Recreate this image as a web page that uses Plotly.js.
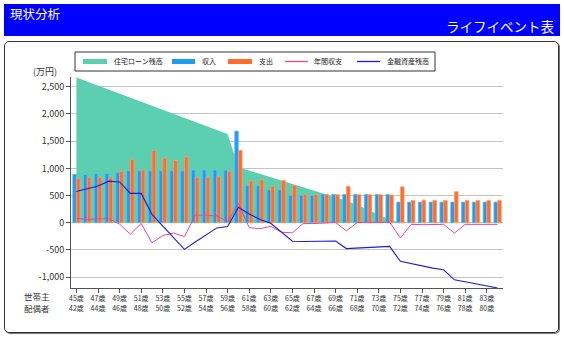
<!DOCTYPE html>
<html><head><meta charset="utf-8">
<script src="https://cdn.plot.ly/plotly-3.0.1.min.js"></script>
<style>
html,body{margin:0;padding:0;width:564px;height:337px;overflow:hidden;background:#fff;font-family:"Noto Sans CJK JP",sans-serif;}
#hdr{position:absolute;left:4px;top:4px;width:556px;height:32px;background:#0000ff;color:#fff;}
#t1{position:absolute;left:6px;top:1px;font-size:12.5px;line-height:18px;}
#t2{position:absolute;right:6px;top:13px;font-size:13.5px;line-height:18px;}
#box{position:absolute;left:4px;top:41px;width:553px;height:290px;border:1px solid #333;border-radius:5px;box-shadow:1px 1px 0 #777;}
#chart{position:absolute;left:0;top:0;width:564px;height:337px;}
</style></head>
<body>
<div id="hdr"><span id="t1">現状分析</span><span id="t2">ライフイベント表</span></div>
<div id="box"></div>
<div id="chart"></div>
<script>
// 世帯主 / 配偶者 ages
const householderAges = [45,46,47,48,49,50,51,52,53,54,55,56,57,58,59,60,61,62,63,64,65,66,67,68,69,70,71,72,73,74,75,76,77,78,79,80,81,82,83,84];
const spouseAges      = [42,43,44,45,46,47,48,49,50,51,52,53,54,55,56,57,58,59,60,61,62,63,64,65,66,67,68,69,70,71,72,73,74,75,76,77,78,79,80,81];

// 住宅ローン残高 (万円)
const loanBalance = [2670,2595,2520,2450,2375,2300,2225,2150,2080,2005,1930,1855,1780,1705,1630,1020,960,900,835,775,710,650,590,525,475,405,325,240,150,60,0,0,0,0,0,0,0,0,0,0];
// 収入
const income = [890,890,905,905,920,955,955,955,955,955,955,970,970,970,970,1685,680,680,605,605,500,500,500,520,520,520,520,520,520,520,380,380,380,380,380,380,380,380,380,380];
// 支出
const expense = [810,830,835,830,945,1165,970,1325,1190,1145,1210,830,830,845,945,1330,770,790,670,780,685,515,515,520,515,670,515,515,515,510,660,410,415,410,410,570,410,410,410,410];
// 年間収支
const annualBalance = [80,60,70,75,-25,-210,-15,-370,-235,-190,-255,140,140,125,25,355,-90,-110,-65,-175,-185,-15,-15,0,5,-150,5,5,5,10,-280,-30,-35,-30,-30,-190,-30,-30,-30,-30];
// 金融資産残高
const financialAssets = [575,625,675,765,750,540,540,155,-65,-290,-490,-355,-225,-95,-70,285,160,60,-10,-180,-340,-345,-345,-340,-335,-475,-465,-455,-445,-435,-710,-755,-795,-835,-865,-1050,-1085,-1120,-1160,-1200];

const yTickVals   = [-1000,-500,0,500,1000,1500,2000,2500];
const yTickLabels = ['-1,000','-500','0','500','1,000','1,500','2,000','2,500'];
const seriesNames = ['住宅ローン残高','収入','支出','年間収支','金融資産残高'];
const rowLabels = ['世帯主','配偶者'];
const unitLabel = '(万円)';

const cats = householderAges.map(a => a + '歳');
const tickVals = [], tickText = [];
householderAges.forEach((a, i) => {
  if (i % 2 === 0 && i < 39) { tickVals.push(cats[i]); tickText.push(a + '歳<br>' + spouseAges[i] + '歳'); }
});

const C = {loan:'#5ccfb1', inc:'#1e9cf2', incL:'#62bdf7', exp:'#ff6c2c', expL:'#ff9a68', bal:'#e8479b', fin:'#1b1bd4'};
const seriesColors = [C.loan, C.inc, C.exp, C.bal, C.fin];
const FONT = '"Noto Sans CJK JP", "Noto Sans", sans-serif';

const traces = [
  {type:'scatter', x:cats, y:loanBalance, xaxis:'x', yaxis:'y', mode:'lines', fill:'tozeroy',
   fillcolor:C.loan, line:{width:0, color:C.loan}, showlegend:false, hoverinfo:'skip'},
  {type:'bar', x:cats, y:income, xaxis:'x2', yaxis:'y2', name:seriesNames[1],
   marker:{color:C.inc, line:{color:C.incL, width:0.8}}, showlegend:false},
  {type:'bar', x:cats, y:expense, xaxis:'x2', yaxis:'y2', name:seriesNames[2],
   marker:{color:C.exp, line:{color:C.expL, width:0.8}}, showlegend:false},
  {type:'scatter', x:cats, y:annualBalance, xaxis:'x2', yaxis:'y2', mode:'lines', name:seriesNames[3],
   line:{color:C.bal, width:1}, showlegend:false},
  {type:'scatter', x:cats, y:financialAssets, xaxis:'x2', yaxis:'y2', mode:'lines', name:seriesNames[4],
   line:{color:C.fin, width:1.1}, showlegend:false}
];

// custom legend (pixel layout -> paper coords)
const PL = 71, PW = 432, PB = 288, PH = 211;
const px = v => (v - PL) / PW, py = v => (PB - v) / PH;
const legBox = {x0:75, x1:435, y0:52, y1:71};
const legY = 61.5;
const legSamples = [[83,107],[172,195],[228,252],[285,308],[357,380]];
const legTextX = [112,200,257,312,385];
const legWidths = [5,5,5,1.3,1.3];

const shapes = [{type:'rect', xref:'paper', yref:'paper', x0:px(legBox.x0), x1:px(legBox.x1), y0:py(legBox.y0), y1:py(legBox.y1),
  line:{color:'#333', width:1}, fillcolor:'#fff', layer:'above'}];
const annotations = [
  {text:unitLabel, xref:'paper', yref:'paper', x:-0.06, y:1.025, xanchor:'center', yanchor:'middle', showarrow:false, font:{size:9, color:'#333'}},
  {text:rowLabels[0], xref:'paper', yref:'paper', x:-0.078, y:-0.038, xanchor:'center', yanchor:'middle', showarrow:false, font:{size:8.5, color:'#333'}},
  {text:rowLabels[1], xref:'paper', yref:'paper', x:-0.078, y:-0.095, xanchor:'center', yanchor:'middle', showarrow:false, font:{size:8.5, color:'#333'}}
];
seriesNames.forEach((n, i) => {
  shapes.push({type:'line', xref:'paper', yref:'paper', x0:px(legSamples[i][0]), x1:px(legSamples[i][1]), y0:py(legY), y1:py(legY),
    line:{color:seriesColors[i], width:legWidths[i]}, layer:'above'});
  annotations.push({text:n, xref:'paper', yref:'paper', x:px(legTextX[i]), y:py(legY), xanchor:'left', yanchor:'middle',
    showarrow:false, font:{size:7, color:'#222'}});
});

const xRange = [-0.5, 39.5], yRange = [-1200, 2680];
const layout = {
  width:564, height:337,
  margin:{l:71, r:61, t:77, b:49, pad:0},
  paper_bgcolor:'rgba(0,0,0,0)', plot_bgcolor:'rgba(0,0,0,0)',
  font:{family:FONT, size:9, color:'#333'},
  showlegend:false,
  barmode:'group', bargap:0.3, bargroupgap:0.05,
  xaxis:{type:'category', categoryorder:'array', categoryarray:cats, range:xRange, tickmode:'array', tickvals:tickVals, ticktext:tickText,
    ticks:'outside', ticklen:4, tickcolor:'#555', showline:true, linecolor:'#555', linewidth:1, showgrid:false, zeroline:false,
    tickfont:{size:7, color:'#333'}, fixedrange:true},
  yaxis:{range:yRange, tickmode:'array', tickvals:yTickVals, ticktext:yTickLabels, ticks:'outside', ticklen:4, tickcolor:'#555',
    showline:true, linecolor:'#555', linewidth:1, gridcolor:'#c4c4c4', gridwidth:1, zeroline:false, tickfont:{size:9, color:'#333'}, fixedrange:true},
  xaxis2:{type:'category', categoryorder:'array', categoryarray:cats, range:xRange, overlaying:'x', visible:false, fixedrange:true},
  yaxis2:{range:yRange, overlaying:'y', visible:false, fixedrange:true},
  shapes:shapes,
  annotations:annotations,
  hovermode:false
};
Plotly.newPlot('chart', traces, layout, {staticPlot:true, displayModeBar:false});
</script>
</body></html>
